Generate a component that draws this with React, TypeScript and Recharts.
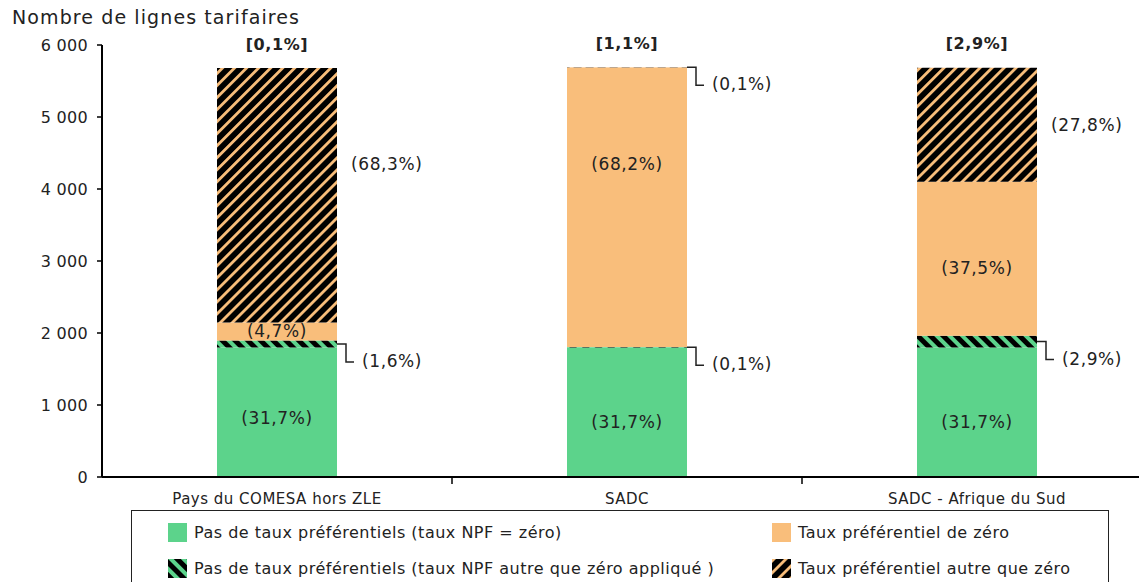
import { BarChart, Bar, XAxis, YAxis, Legend, LabelList } from 'recharts';

const categories = ['Pays du COMESA hors ZLE', 'SADC', 'SADC - Afrique du Sud'];

// lignes tarifaires par catégorie de traitement
const mfnZero = [1800, 1800, 1800];
const mfnNonZero = [97, 6, 162];
const prefZero = [250, 3880, 2140];
const prefNonZero = [3533, 6, 1583];

const topLabels = ['[0,1%]', '[1,1%]', '[2,9%]'];
const mfnZeroLabels = ['(31,7%)', '(31,7%)', '(31,7%)'];
const mfnNonZeroLabels = ['(1,6%)', '(0,1%)', '(2,9%)'];
const prefZeroLabels = ['(4,7%)', '(68,2%)', '(37,5%)'];
const prefNonZeroLabels = ['(68,3%)', '(0,1%)', '(27,8%)'];

const yTicks = [0, 1000, 2000, 3000, 4000, 5000, 6000];
const yTickLabels = ['0', '1 000', '2 000', '3 000', '4 000', '5 000', '6 000'];

const legendNames = [
  'Pas de taux préférentiels (taux NPF = zéro)',
  'Pas de taux préférentiels (taux NPF autre que zéro appliqué )',
  'Taux préférentiel de zéro',
  'Taux préférentiel autre que zéro',
];

const GREEN = '#5CD38B';
const ORANGE = '#F9BE7B';
const TEXT = '#222';
const FONT = '"DejaVu Sans", Verdana, sans-serif';

const chartData = categories.map((name, i) => ({
  name,
  mfnZero: mfnZero[i],
  mfnNonZero: mfnNonZero[i],
  prefZero: prefZero[i],
  prefNonZero: prefNonZero[i],
  topLabel: topLabels[i],
  mfnZeroLabel: mfnZeroLabels[i],
  mfnNonZeroLabel: mfnNonZeroLabels[i],
  prefZeroLabel: prefZeroLabels[i],
  prefNonZeroLabel: prefNonZeroLabels[i],
}));

const fills = [GREEN, 'url(#hatchGreen)', ORANGE, 'url(#hatchOrange)'];

// small hand placement of the labels, as in the original
const nudge: Record<string, number[]> = {
  mfnZero: [6, 10, 10],
  prefZero: [0, -43, 9],
  prefNonZero: [-31, 0, 0],
};

const box = (props: any) => {
  const vb = props.viewBox || {};
  return {
    x: Number(props.x ?? vb.x),
    y: Number(props.y ?? vb.y),
    w: Number(props.width ?? vb.width),
    h: Number(props.height ?? vb.height),
  };
};

const labelStyle = { fontFamily: FONT, fontSize: 17, fill: TEXT, letterSpacing: 0.6 };

const InsideLabel = (key: string) => (props: any) => {
  const { x, y, w, h } = box(props);
  const dy = nudge[key]?.[props.index] || 0;
  return (
    <text x={x + w / 2} y={y + h / 2 + dy} textAnchor="middle" dominantBaseline="central" {...labelStyle}>
      {props.value}
    </text>
  );
};

const BracketLabel = (props: any, top = false) => {
  const { x, y, w, h } = box(props);
  const y0 = top ? y : y + h / 2;
  const x0 = x + w;
  return (
    <g>
      <polyline
        points={`${x0},${y0} ${x0 + 9},${y0} ${x0 + 9},${y0 + 18} ${x0 + 17},${y0 + 18}`}
        fill="none"
        stroke="#222"
        strokeWidth={1.5}
      />
      <text x={x0 + 25} y={y0 + 17} dominantBaseline="central" {...labelStyle}>
        {props.value}
      </text>
    </g>
  );
};

const SideLabel = (props: any) => {
  const { x, y, w, h } = box(props);
  if (props.index === 1) return BracketLabel(props, true);
  const dy = nudge.prefNonZero[props.index] || 0;
  return (
    <text x={x + w + 14} y={y + h / 2 + dy} dominantBaseline="central" {...labelStyle}>
      {props.value}
    </text>
  );
};

const TopLabel = (props: any) => {
  const { x, y, w } = box(props);
  return (
    <text x={x + w / 2} y={y - 24} textAnchor="middle" dominantBaseline="central" {...labelStyle} fontWeight="bold" fontSize={16}>
      {props.value}
    </text>
  );
};

const CategoryTick = (props: any) => {
  const { x, y, payload, index } = props;
  const half = payload?.offset || 175;
  return (
    <g>
      <text x={x} y={y + 22} textAnchor="middle" dominantBaseline="central" fontFamily={FONT} fontSize={15} letterSpacing={0.5} fill={TEXT}>
        {payload.value}
      </text>
      {index < categories.length - 1 && (
        <line x1={x + half} x2={x + half} y1={y} y2={y + 7} stroke="#000" strokeWidth={1.5} />
      )}
    </g>
  );
};

const renderLegend = () => (
  <div
    style={{
      position: 'relative',
      width: 978,
      height: 90,
      border: '1px solid #222',
      boxSizing: 'border-box',
      background: '#fff',
      fontFamily: FONT,
      fontSize: 16,
      letterSpacing: 0.5,
      color: TEXT,
    }}
  >
    {legendNames.map((name, i) => (
      <div
        key={name}
        style={{
          position: 'absolute',
          left: i < 2 ? 36 : 640,
          top: i % 2 === 0 ? 12 : 48,
          display: 'flex',
          alignItems: 'center',
          whiteSpace: 'nowrap',
        }}
      >
        <svg width={19} height={19} style={{ display: 'block' }}>
          <rect width={19} height={19} fill={fills[i]} />
        </svg>
        <span style={{ marginLeft: 7 }}>{name}</span>
      </div>
    ))}
  </div>
);

export default function App() {
  return (
    <div style={{ position: 'fixed', left: 0, top: 0, width: 1139, height: 582, overflow: 'hidden', background: '#fff' }}>
      <svg width={0} height={0} style={{ position: 'absolute' }}>
        <defs>
          <pattern id="hatchOrange" patternUnits="userSpaceOnUse" width={8.5} height={8.5} patternTransform="rotate(45)">
            <rect width={8.5} height={8.5} fill="#000" />
            <rect width={2.8} height={8.5} fill={ORANGE} />
          </pattern>
          <pattern id="hatchGreen" patternUnits="userSpaceOnUse" width={9} height={9} patternTransform="rotate(-45)">
            <rect width={9} height={9} fill="#000" />
            <rect width={4} height={9} fill={GREEN} />
          </pattern>
        </defs>
      </svg>
      <div style={{ position: 'absolute', left: 12, top: 6, fontFamily: FONT, fontSize: 19, letterSpacing: 1.1, color: TEXT, whiteSpace: 'nowrap' }}>
        Nombre de lignes tarifaires
      </div>
      <BarChart
        width={1160}
        height={582}
        data={chartData}
        margin={{ top: 45, right: 8, bottom: 75, left: 42 }}
        barSize={120}
      >
        <XAxis
          dataKey="name"
          height={30}
          tickLine={false}
          tickSize={0}
          tickMargin={0}
          tick={CategoryTick}
          interval={0}
          axisLine={{ stroke: '#000', strokeWidth: 2 }}
        />
        <YAxis
          width={60}
          domain={[0, 6000]}
          ticks={yTicks}
          tickFormatter={(v: number) => yTickLabels[yTicks.indexOf(v)]}
          tickSize={5}
          tickMargin={9}
          tick={{ fontFamily: FONT, fontSize: 16, fill: TEXT, letterSpacing: 0.3 }}
          tickLine={{ stroke: '#000', strokeWidth: 1.5 }}
          axisLine={{ stroke: '#000', strokeWidth: 2 }}
        />
        <Legend
          layout="horizontal"
          verticalAlign="middle"
          align="center"
          content={renderLegend}
          wrapperStyle={{ left: 131, top: 510, width: 978 }}
        />
        <Bar dataKey="mfnZero" name={legendNames[0]} stackId="a" fill={fills[0]} isAnimationActive={false}>
          <LabelList dataKey="mfnZeroLabel" content={InsideLabel('mfnZero')} />
        </Bar>
        <Bar dataKey="mfnNonZero" name={legendNames[1]} stackId="a" fill={fills[1]} isAnimationActive={false}>
          <LabelList dataKey="mfnNonZeroLabel" content={(p: any) => BracketLabel(p)} />
        </Bar>
        <Bar dataKey="prefZero" name={legendNames[2]} stackId="a" fill={fills[2]} isAnimationActive={false}>
          <LabelList dataKey="prefZeroLabel" content={InsideLabel('prefZero')} />
        </Bar>
        <Bar dataKey="prefNonZero" name={legendNames[3]} stackId="a" fill={fills[3]} isAnimationActive={false}>
          <LabelList dataKey="prefNonZeroLabel" content={SideLabel} />
          <LabelList dataKey="topLabel" content={TopLabel} />
        </Bar>
      </BarChart>
    </div>
  );
}
